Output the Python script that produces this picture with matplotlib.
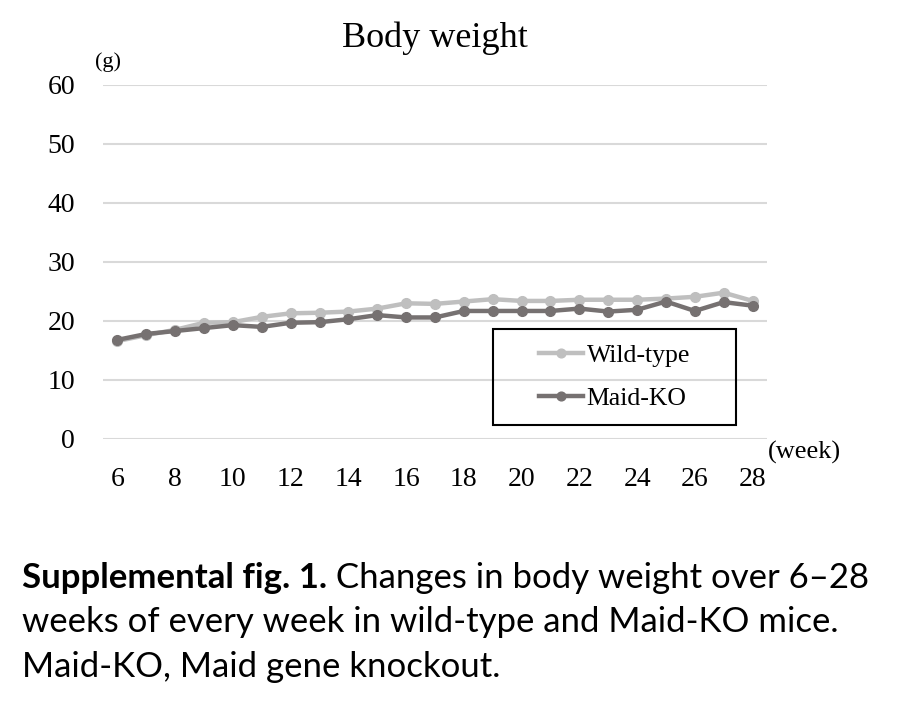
import matplotlib.pyplot as plt
from matplotlib.patches import Rectangle

weeks = list(range(6, 29))
wild_type = [16.6, 17.6, 18.5, 19.7, 19.8, 20.7, 21.3, 21.4, 21.6, 22.1, 23.0, 22.9,
             23.3, 23.7, 23.4, 23.4, 23.6, 23.6, 23.6, 23.8, 24.1, 24.8, 23.4]
maid_ko = [16.8, 17.8, 18.3, 18.8, 19.3, 19.0, 19.7, 19.8, 20.3, 21.0, 20.6, 20.6,
           21.7, 21.7, 21.7, 21.7, 22.1, 21.6, 21.9, 23.3, 21.7, 23.2, 22.6]
x_ticks = list(range(6, 29, 2))
y_ticks = [0, 10, 20, 30, 40, 50, 60]

serif = 'Liberation Serif'
sans = 'Lato'

fig = plt.figure(figsize=(9.01, 7.13), dpi=100)
ax = fig.add_axes([0.1143, 0.3843, 0.737, 0.4965])

ax.plot(weeks, wild_type, color='#BFBFBF', lw=3.2, marker='o', ms=7, label='Wild-type', zorder=3)
ax.plot(weeks, maid_ko, color='#767171', lw=3.2, marker='o', ms=7, label='Maid-KO', zorder=4)

ax.set_xlim(5.5, 28.5)
ax.set_ylim(0, 60)
ax.set_yticks(y_ticks)
ax.set_xticks(x_ticks)
ax.grid(axis='y', color='#D9D9D9', lw=1.5)
ax.set_axisbelow(True)
for s in ax.spines.values():
    s.set_visible(False)
ax.tick_params(length=0, labelsize=20)
ax.tick_params(axis='y', pad=20)
ax.tick_params(axis='x', pad=20)
for lab in ax.get_xticklabels() + ax.get_yticklabels():
    lab.set_fontfamily(serif)

fig.text(0.483, 0.947, 'Body weight', ha='center', va='center', fontsize=26, family=serif)
fig.text(0.105, 0.913, '(g)', ha='left', va='center', fontsize=16, family=serif)
fig.text(0.852, 0.366, '(week)', ha='left', va='center', fontsize=19, family=serif)

# legend box drawn separately so its padding can match
fig.patches.append(Rectangle((0.5472, 0.4039), 0.2697, 0.1346, transform=fig.transFigure,
                             fill=False, edgecolor='black', lw=1.5, zorder=5))
leg = ax.legend(loc='center', bbox_to_anchor=(0.682, 0.471), bbox_transform=fig.transFigure,
                frameon=False, prop={'family': serif, 'size': 18.5},
                handlelength=1.7, handletextpad=0.15, labelspacing=0.8, markerscale=0.9)

fs = 25
y1, y2, y3 = 0.189, 0.127, 0.065
t = fig.text(0.024, y1, 'Supplemental fig. 1.', ha='left', va='center', fontsize=fs,
             family=sans, fontweight='bold')
fig.canvas.draw()
bb = t.get_window_extent().transformed(fig.transFigure.inverted())
fig.text(bb.x1, y1, ' Changes in body weight over 6\u201328', ha='left', va='center',
         fontsize=fs, family=sans)
fig.text(0.024, y2, 'weeks of every week in wild-type and Maid-KO mice.', ha='left',
         va='center', fontsize=fs, family=sans)
fig.text(0.024, y3, 'Maid-KO, Maid gene knockout.', ha='left', va='center',
         fontsize=fs, family=sans)

fig.savefig('out.png', dpi=100)
